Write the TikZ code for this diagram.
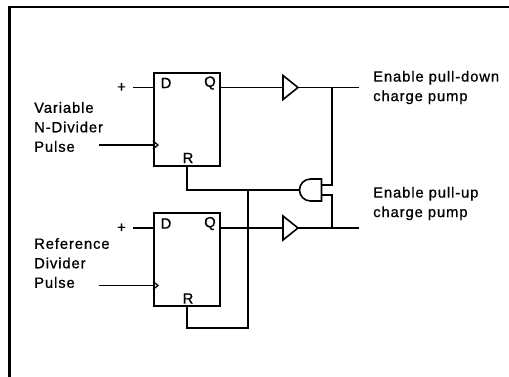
\documentclass[tikz,border=0pt]{standalone}
\usepackage{fontspec}
\setmainfont{Liberation Sans}[LetterSpace=6, FakeBold=0.8]
\usetikzlibrary{positioning, shapes.geometric}

\begin{document}
\begin{tikzpicture}[x=1pt, y=1pt, node distance=20pt,
        font=\fontsize{14.8}{19.5}\selectfont,
        wire/.style = {line width=1.3pt},
        ffbox/.style = {draw, rectangle, line width=2pt, minimum width=66pt, minimum height=93pt, inner sep=0pt},
        buf/.style = {draw, isosceles triangle, isosceles triangle stretches, line width=1.6pt, minimum width=24pt, minimum height=15pt, inner sep=0pt, outer sep=0pt, anchor=west},
        lbl/.style = {align=left, inner sep=0pt},
        ffpin/.style = {inner sep=0pt},
        ]
        \useasboundingbox (0,0) rectangle (509,377);
        % frame
        \draw[line width=2pt] (8,370) -- (509,370);
        \draw[line width=3pt] (9,371) -- (9,0);

        % flip-flops
        \node [ffbox] (ff1) at (187,257.5) {};
        \node [ffbox] (ff2) at (187,117) {};
        \foreach \f in {ff1, ff2} {
            \node [ffpin] (\f d) at ([shift={(13,-11)}]\f.north west) {D};
            \node [ffpin] (\f q) at ([shift={(-11,-11)}]\f.north east) {Q};
            \node [ffpin] (\f r) at ([shift={(1,9)}]\f.south) {R};
            \coordinate (\f din) at ([yshift=-15.5]\f.north west);
            \coordinate (\f qout) at ([yshift=-15.5]\f.north east);
            \coordinate (\f clk) at ([yshift=22]\f.south west);
            \coordinate [left=of \f din] (\f dsrc);
            \coordinate [left=54pt of \f clk] (\f csrc);
            \node [left=7pt of \f dsrc, inner sep=0pt] (\f plus) {+};
            \draw [wire] (\f dsrc) -- (\f din);
            \draw [wire] (\f csrc) -- (\f clk);
            \draw [wire] ([yshift=4]\f clk) -- ([xshift=5]\f clk) -- ([yshift=-4]\f clk);
        }
        \node [lbl, anchor=west] (vpulse) at (34,250) {Variable\\N-Divider\\Pulse};
        \node [lbl, anchor=west] (rpulse) at (34,114) {Reference\\Divider\\Pulse};

        % buffers and outputs
        \coordinate (bufx) at (283,0);
        \coordinate (jx) at (332,0);
        \coordinate (outx) at (359,0);
        \node [buf] (buf1) at (ff1qout -| bufx) {};
        \node [buf] (buf2) at (ff2qout -| bufx) {};
        \coordinate (out1) at (ff1qout -| outx);
        \coordinate (out2) at (ff2qout -| outx);
        \coordinate (j1) at (ff1qout -| jx);
        \coordinate (j2) at (ff2qout -| jx);
        \node [lbl, right=14pt of out1] (en1) {Enable pull-down\\charge pump};
        \node [lbl, anchor=west] (en2) at (373,173.5) {Enable pull-up\\charge pump};
        \draw [wire] (ff1qout) -- (buf1.west);
        \draw [wire] (buf1.apex) -- (out1);
        \draw [wire] (ff2qout) -- (buf2.west);
        \draw [wire] (buf2.apex) -- (out2);

        % reset logic: and gate, flat side to the right
        \coordinate (and) at (310.5,187);
        \draw [line width=1.6pt] ([shift={(11,11)}]and) -- ([shift={(0,11)}]and)
            arc (90:270:11) -- ([shift={(11,-11)}]and) -- cycle;
        \coordinate (rj) at (248,187);
        \draw [wire] (j1) |- ([shift={(11,5)}]and);
        \draw [wire] ([shift={(11,-5)}]and) -| (j2);
        \draw [wire] (ff1.south) |- ([xshift=-11]and);
        \draw [wire] (ff2.south) -- ++(0,-20.5) -| (rj);
    \end{tikzpicture}
\end{document}
